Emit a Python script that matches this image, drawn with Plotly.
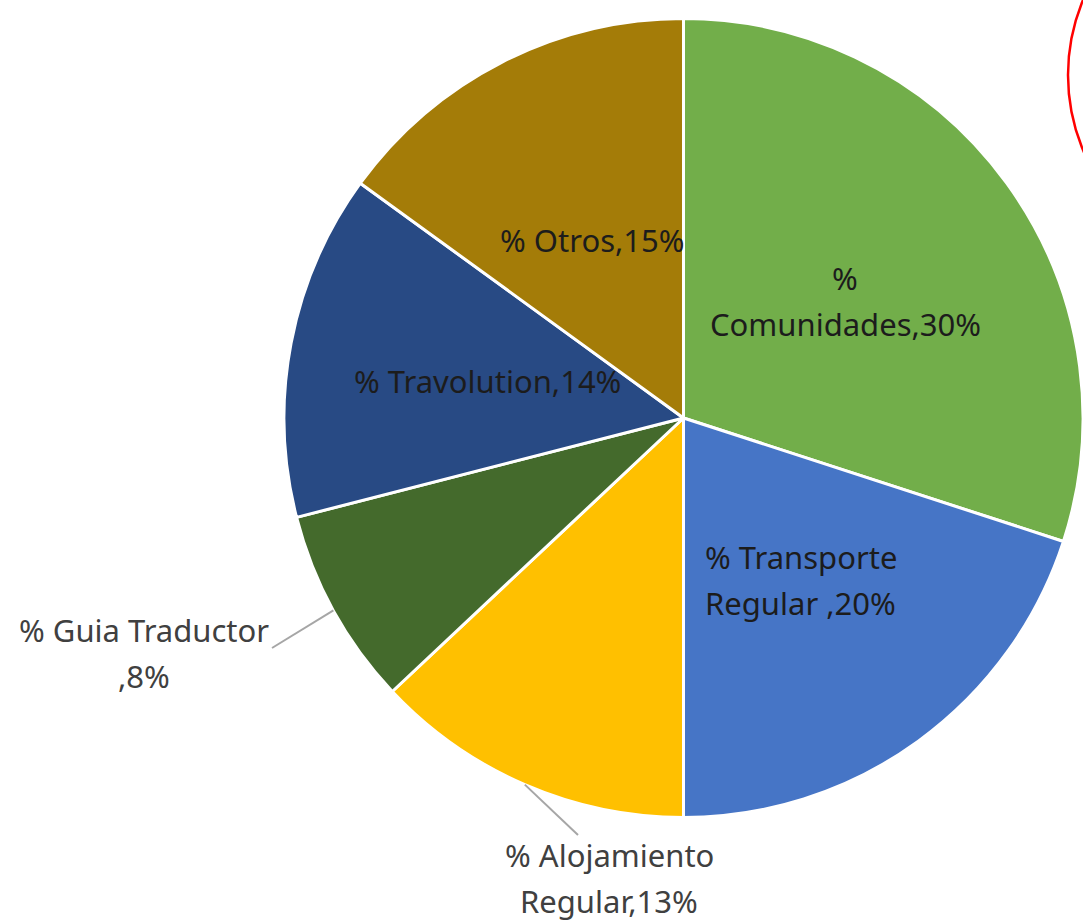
import math
import plotly.graph_objects as go

# ---- data ----
labels = ["% Comunidades", "% Transporte Regular ", "% Alojamiento Regular",
          "% Guia Traductor", "% Travolution", "% Otros"]
values = [30, 20, 13, 8, 14, 15]
label_lines = [["%", "Comunidades,30%"], ["% Transporte", "Regular ,20%"],
               ["% Alojamiento", "Regular,13%"], ["% Guia Traductor", ",8%"],
               ["% Travolution,14%"], ["% Otros,15%"]]
colors = ["#72AE4A", "#4675C6", "#FFC000", "#446A2C", "#284A84", "#A47C08"]
inside = [True, True, False, False, True, True]

# ---- layout constants (pixels) ----
W, H = 1083, 921
X0 = 284.0                      # left edge of pie domain
CY, HALF_H = 418.0, 403.0
FONT = "Noto Sans"
FS = 31
LINE_GAP = 46

dom_x = [X0 / W, 1.0]
dom_y = [1 - (CY + HALF_H) / H, 1 - (CY - HALF_H) / H]
CX = (X0 + W) / 2
R = min(W - X0, 2 * HALF_H) / 2

def paper(px, py):
    return px / W, 1 - py / H

fig = go.Figure(go.Pie(
    labels=labels, values=values, sort=False, direction="clockwise",
    marker=dict(colors=colors, line=dict(color="white", width=3)),
    textinfo="none", hoverinfo="label+percent", showlegend=False,
    domain=dict(x=dom_x, y=dom_y),
))

total = sum(values)
cum = 0
mids = []
for v in values:
    mids.append(2 * math.pi * (cum + v / 2) / total)
    cum += v

annotations = []
shapes = []
# outside label placement (pixel centre of text block, end of leader line)
outside_pos = {2: ((609, 878), (578, 835)), 3: ((144, 653), (272, 648))}

def add_label(lines, px, py, color):
    n = len(lines)
    for k, t in enumerate(lines):
        ly = py + (k - (n - 1) / 2) * LINE_GAP
        x, y = paper(px, ly)
        annotations.append(dict(x=x, y=y, xref="paper", yref="paper", text=t,
                                showarrow=False, font=dict(family=FONT, size=FS, color=color),
                                xanchor="center", yanchor="middle", align="center"))

for i, th in enumerate(mids):
    if inside[i]:
        px = CX + 0.5 * R * math.sin(th)
        py = CY - 0.5 * R * math.cos(th)
        add_label(label_lines[i], px, py, "#1c1c1c")
    else:
        (tx, ty), (ex, ey) = outside_pos[i]
        sx = CX + R * math.sin(th)
        sy = CY - R * math.cos(th)
        x0, y0 = paper(sx, sy)
        x1, y1 = paper(ex, ey)
        shapes.append(dict(type="line", xref="paper", yref="paper", x0=x0, y0=y0, x1=x1, y1=y1,
                           line=dict(color="#A6A6A6", width=2)))
        add_label(label_lines[i], tx, ty, "#404040")

# red highlight ellipse at top-right
ex0, ey0 = paper(1068, 270)
ex1, ey1 = paper(1458, -120)
shapes.append(dict(type="circle", xref="paper", yref="paper", x0=ex0, y0=ey0, x1=ex1, y1=ey1,
                   line=dict(color="#FF0000", width=2.5)))

fig.update_layout(
    width=W, height=H, margin=dict(l=0, r=0, t=0, b=0),
    paper_bgcolor="white", plot_bgcolor="white",
    annotations=annotations, shapes=shapes,
)

fig.write_html("out.html", config={"displayModeBar": False},
               post_script="document.body.style.margin='0';")
